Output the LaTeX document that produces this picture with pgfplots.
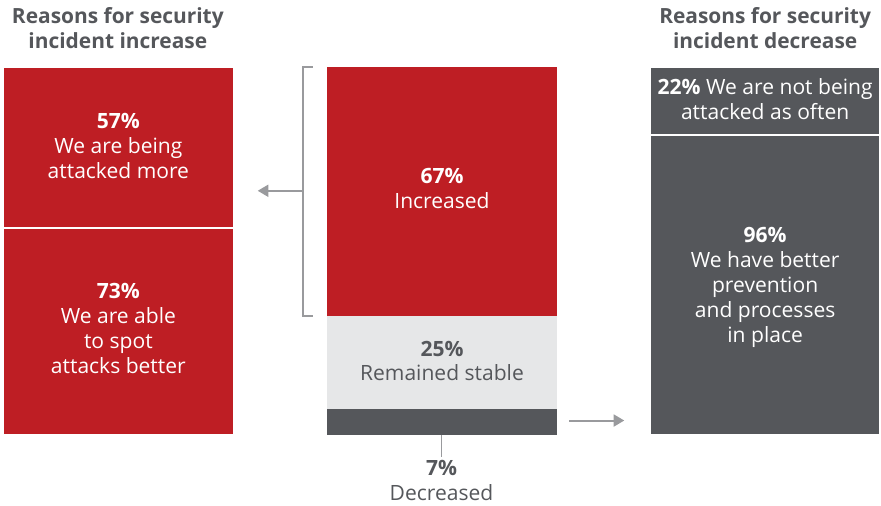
\documentclass[border=0pt]{standalone}
\usepackage{fontspec}
\setmainfont{Open Sans}
\usepackage{pgfplots}
\pgfplotsset{compat=1.18}
\usetikzlibrary{arrows.meta}
\definecolor{dred}{RGB}{190,30,36}
\definecolor{dgray}{RGB}{85,87,91}
\definecolor{lgray}{RGB}{230,231,232}
\definecolor{agray}{RGB}{153,154,157}

\pgfplotsset{colbar/.style={
  scale only axis, height=276pt, hide axis,
  ybar stacked, xmin=-0.5, xmax=0.5, ymin=0,
  enlargelimits=false, anchor=south west, clip=false},
  seg/.style={fill=#1, draw=none}}
\newcommand\bodyfont{\fontsize{15.8}{18.75}\selectfont}
\tikzset{lbl/.style={align=center, text=white, font=\bodyfont}}

\begin{document}
\begin{tikzpicture}
\begin{scope}[x=0.75pt,y=-0.75pt]
\path[use as bounding box] (0,0) rectangle (881,506);
\node[align=center, text=dgray, font=\fontsize{15.7}{18.75}\selectfont\bfseries] at (118,28) {Reasons for security\\incident increase};
\node[align=center, text=dgray, font=\fontsize{15.7}{18.75}\selectfont\bfseries] at (766,28) {Reasons for security\\incident decrease};
% bracket and arrows
\draw[agray, line width=1.5pt] (313,67) -- (303,67) -- (303,316) -- (313,316);
\draw[agray, line width=1.5pt, -{Triangle[length=8pt,width=9pt]}] (303,191) -- (258,191);
\draw[agray, line width=1.5pt, -{Triangle[length=8pt,width=9pt]}] (570,421) -- (625,421);
\draw[agray, line width=1pt] (442,435) -- (442,458);
\node[lbl, text=dgray] at (442,481.5) {\textbf{7\%}\\Decreased};
\end{scope}

% left column: reasons for increase
\begin{axis}[colbar, at={(2.25pt,-326.25pt)}, width=173.25pt, ymax=130, bar width=173.25pt]
\addplot[seg=dred, draw=white, line width=1.5pt] coordinates {(0,73)};
\addplot[seg=dred, draw=white, line width=1.5pt] coordinates {(0,57)};
\coordinate (a1) at (axis cs:0,102.2);
\coordinate (a2) at (axis cs:0,37.6);
\end{axis}
\node[lbl] at (a1) {\textbf{57\%}\\We are being\\attacked more};
\node[lbl] at (a2) {\textbf{73\%}\\We are able\\to spot\\attacks better};

% middle column: overall change
\begin{axis}[colbar, at={(245.25pt,-326.25pt)}, width=173.25pt, ymax=99, bar width=173.25pt]
\addplot[seg=dgray] coordinates {(0,7)};
\addplot[seg=lgray] coordinates {(0,25)};
\addplot[seg=dred] coordinates {(0,67)};
\coordinate (b1) at (axis cs:0,66.3);
\coordinate (b2) at (axis cs:0,19.8);
\end{axis}
\node[lbl] at (b1) {\textbf{67\%}\\Increased};
\node[lbl, text=dgray] at (b2) {\textbf{25\%}\\Remained stable};

% right column: reasons for decrease
\begin{axis}[colbar, at={(488.25pt,-326.25pt)}, width=172.5pt, ymax=118, bar width=172.5pt]
\addplot[seg=dgray, draw=white, line width=1.5pt] coordinates {(0,96)};
\addplot[seg=dgray, draw=white, line width=1.5pt] coordinates {(0,22)};
\coordinate (c1) at (axis cs:0,107.6);
\coordinate (c2) at (axis cs:0,47.3);
\end{axis}
\node[lbl] at (c1) {\textbf{22\%} We are not being\\attacked as often};
\node[lbl] at (c2) {\textbf{96\%}\\We have better\\prevention\\and processes\\in place};
\end{tikzpicture}
\end{document}
